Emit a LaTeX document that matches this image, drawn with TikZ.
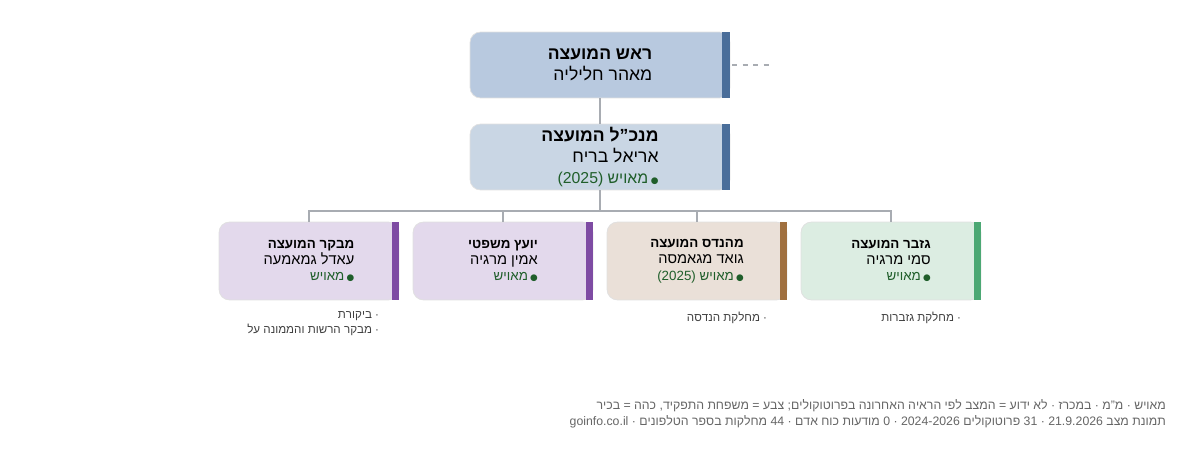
\documentclass[tikz,border=0pt]{standalone}
\usepackage{fontspec}
\setmainfont{Liberation Sans}
\newfontfamily\symfont{DejaVu Sans}
\usetikzlibrary{positioning}
\TeXXeTstate=1
\newcommand{\rl}[1]{\beginR#1\endR}
\newcommand{\lr}[1]{\beginL#1\endL}
\definecolor{topfill}{HTML}{B8C9DF}
\definecolor{ceofill}{HTML}{C9D6E4}
\definecolor{bluebar}{HTML}{4A6E9A}
\definecolor{purfill}{HTML}{E3D9EC}
\definecolor{purbar}{HTML}{7E4BA3}
\definecolor{brnfill}{HTML}{EAE0D8}
\definecolor{brnbar}{HTML}{A0703F}
\definecolor{grnfill}{HTML}{DCEDE2}
\definecolor{grnbar}{HTML}{4CA874}
\definecolor{okgreen}{HTML}{1F5E2A}
\definecolor{linegray}{HTML}{A8ACB2}
\newcommand{\staffed}[1]{\textcolor{okgreen}{#1\,{\symfont\tiny ●}}}
\begin{document}
\begin{tikzpicture}[
  x=0.02cm, y=-0.02cm,
  box/.style = {
    draw = black!12,
    rectangle,
    rounded corners = 6pt,
    align = right,
    inner sep = 0pt,
  },
  big/.style = {
    box,
    minimum width = 5.2cm,
    minimum height = 1.32cm,
    font = \fontsize{10}{12}\selectfont,
  },
  small/.style = {
    box,
    minimum width = 3.6cm,
    minimum height = 1.56cm,
    font = \fontsize{7.6}{9.3}\selectfont,
  },
  link/.style = {
    draw = linegray,
    line width = 0.8pt,
  },
  note/.style = {
    anchor = north east,
    align = right,
    text = black!75,
    font = \fontsize{6.6}{8.6}\selectfont,
  },
]
  \useasboundingbox[fill=white] (0,0) rectangle (1200,452);

  % top levels
  \node[big,fill=topfill] (head) at (600,65) {\rl{\bfseries ראש המועצה}\\\rl{מאהר חליליה}};
  \node[big,fill=ceofill] (ceo) at (600,157) {\rl{\bfseries מנכ"ל המועצה}\\\rl{אריאל בריח}\\{\small\staffed{(\lr{2025}) \rl{מאויש}}}};

  % departments
  \node[small,fill=purfill] (audit) at (309,261) {\rl{\bfseries מבקר המועצה}\\{\fontsize{8.3}{10}\selectfont\rl{עאדל גמאמעה}}\\\staffed{\rl{מאויש}}};
  \node[small,fill=purfill] (legal) at (503,261) {\rl{\bfseries יועץ משפטי}\\{\fontsize{8.3}{10}\selectfont\rl{אמין מרגיה}}\\\staffed{\rl{מאויש}}};
  \node[small,fill=brnfill] (eng) at (697,261) {\rl{\bfseries מהנדס המועצה}\\{\fontsize{8.3}{10}\selectfont\rl{גואד מגאמסה}}\\\staffed{(\lr{2025}) \rl{מאויש}}};
  \node[small,fill=grnfill] (treas) at (891,261) {\rl{\bfseries גזבר המועצה}\\{\fontsize{8.3}{10}\selectfont\rl{סמי מרגיה}}\\\staffed{\rl{מאויש}}};

  % role-colour bars
  \fill[bluebar] ([xshift=-5]head.north east) rectangle (head.south east);
  \fill[bluebar] ([xshift=-5]ceo.north east) rectangle (ceo.south east);
  \fill[purbar] ([xshift=-4]audit.north east) rectangle (audit.south east);
  \fill[purbar] ([xshift=-4]legal.north east) rectangle (legal.south east);
  \fill[brnbar] ([xshift=-4]eng.north east) rectangle (eng.south east);
  \fill[grnbar] ([xshift=-4]treas.north east) rectangle (treas.south east);

  % connectors
  \coordinate (vac) at (770,65);
  \draw[linegray,dashed,line width=0.8pt] ([xshift=1]head.east) -- (vac);
  \path[link] (head) -- (ceo);
  \coordinate (fork) at (600,211);
  \path[link] (ceo) -- (fork);
  \foreach \d in {audit,legal,eng,treas}
    \path[link] (fork) -| (\d.north);

  % units
  \node[note] (na) at ([xshift=-8,yshift=-3]audit.south east) {\rl{· ביקורת}\\\rl{· מבקר הרשות והממונה על}};
  \node[note] (ne) at ([xshift=-8,yshift=-3]eng.south east) {\rl{· מחלקת הנדסה}};
  \node[note] (nt) at ([xshift=-8,yshift=-3]treas.south east) {\rl{· מחלקת גזברות}};

  % legend
  \node[note,text=black!60,font=\fontsize{7}{9.2}\selectfont] (legend) at (1172,393)
    {\rl{מאויש · מ"מ · במכרז · לא ידוע = המצב לפי הראיה האחרונה בפרוטוקולים; צבע = משפחת התפקיד, כהה = בכיר}\\
     \rl{תמונת מצב \lr{21.9.2026} · \lr{31} פרוטוקולים \lr{2024-2026} · \lr{0} מודעות כוח אדם · \lr{44} מחלקות בספר הטלפונים · \lr{goinfo.co.il}}};
\end{tikzpicture}
\end{document}
